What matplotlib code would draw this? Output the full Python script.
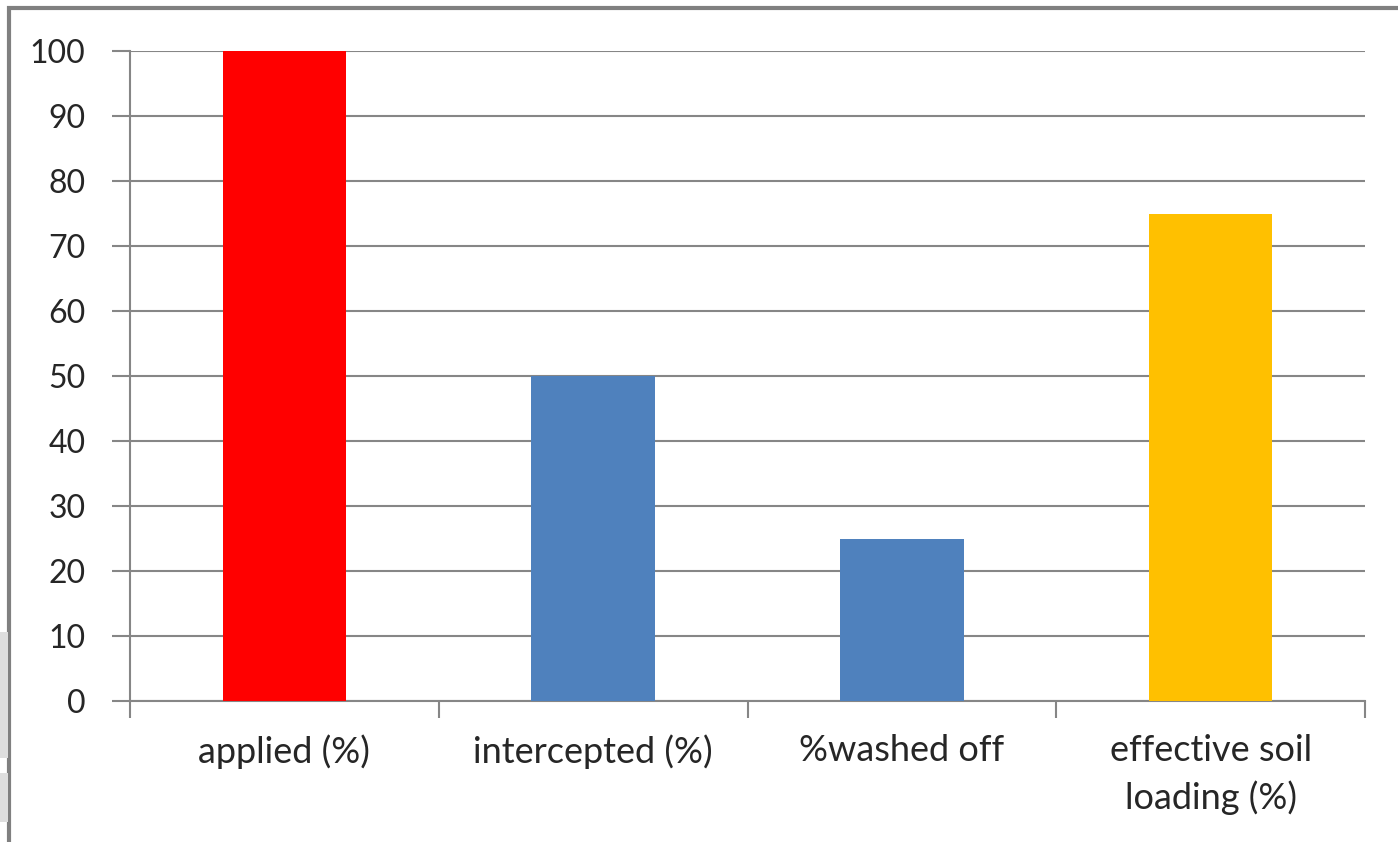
import matplotlib
matplotlib.use("Agg")
import matplotlib.pyplot as plt
from matplotlib.patches import Rectangle

# Spray-fate budget: share of applied amount at each stage
categories = ["applied (%)", "intercepted (%)", "%washed off", "effective soil\nloading (%)"]
values = [100, 50, 25, 75]
colors = ["#FF0000", "#4F81BD", "#4F81BD", "#FFC000"]
yticks = list(range(0, 101, 10))

plt.rcParams["font.family"] = ["Lato", "DejaVu Sans"]
GRID = "#868686"
TEXT = "#262626"

fig = plt.figure(figsize=(13.98, 8.42), dpi=100)
W, H = 1398, 842

# chart area frame (runs off the right and bottom edges)
fig.add_artist(Rectangle((9 / W, -0.05), 1.2, 1 - 8 / H + 0.05, transform=fig.transFigure,
                         fill=False, edgecolor="#808080", linewidth=3))
# faint grey shapes at the left margin
for y0, y1 in [(632, 758), (773, 822)]:
    fig.add_artist(Rectangle((0, 1 - y1 / H), 8 / W, (y1 - y0) / H,
                             transform=fig.transFigure, color="#dedede", linewidth=0))

ax = fig.add_axes([130 / W, 1 - 701 / H, (1365 - 130) / W, (701 - 51) / H])
x = range(len(categories))
ax.bar(x, values, width=0.4, color=colors, zorder=3)
ax.set_xlim(-0.5, len(categories) - 0.5)
ax.set_ylim(0, 100)
ax.set_yticks(yticks)
ax.yaxis.grid(True, color=GRID, linewidth=1.5, zorder=0)

ax.set_xticks([i - 0.5 for i in range(len(categories) + 1)], minor=False)
ax.set_xticklabels([])
ax.set_xticks(list(x), minor=True)
ax.set_xticklabels(categories, minor=True, fontsize=26, color=TEXT, linespacing=1.45)
ax.tick_params(axis="x", which="major", length=12, width=1.5, color=GRID, direction="out")
ax.tick_params(axis="x", which="minor", length=0, pad=24)
ax.tick_params(axis="y", length=13, width=1.5, color=GRID, labelsize=23,
               labelcolor=TEXT, pad=19)

for side in ["top", "right"]:
    ax.spines[side].set_visible(False)
for side in ["left", "bottom"]:
    ax.spines[side].set_color(GRID)
    ax.spines[side].set_linewidth(1.5)

fig.savefig("out.png", dpi=100)
